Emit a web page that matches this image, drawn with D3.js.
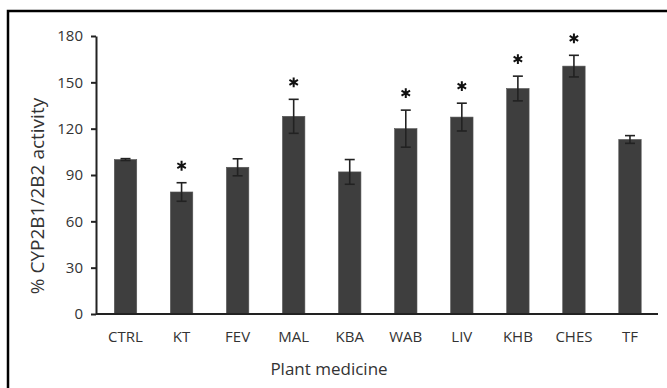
<!DOCTYPE html>
<html>
<head>
<meta charset="utf-8">
<script src="https://cdn.jsdelivr.net/npm/d3@7"></script>
<style>
  body { margin: 0; background: #fff; }
  svg { display: block; font-family: "Open Sans", sans-serif; }
</style>
</head>
<body>
<svg id="chart"></svg>
<script>
// Data
const categories = ["CTRL", "KT", "FEV", "MAL", "KBA", "WAB", "LIV", "KHB", "CHES", "TF"];
const meanValues = [100, 79, 95, 128, 92, 120, 127.5, 146, 160.5, 113];
const errorValues = [0.6, 6, 5.5, 11, 8, 12, 9, 8, 7, 2.5];
const significant = [false, true, false, true, false, true, true, true, true, false];
const yTicks = [0, 30, 60, 90, 120, 150, 180];

const width = 667;
const height = 388;
const svg = d3.select("#chart")
    .attr("width", width)
    .attr("height", height);

// frame around the figure (only top and left edges are inside the picture)
svg.append("rect")
    .attr("x", 8)
    .attr("y", 11)
    .attr("width", 700)
    .attr("height", 400)
    .attr("fill", "none")
    .attr("stroke", "#000")
    .attr("stroke-width", 2.5);

const x = d3.scaleBand()
    .domain(categories)
    .range([97.5, 658])
    .paddingInner(0.6)
    .paddingOuter(0.3);

const y = d3.scaleLinear()
    .domain([0, 180])
    .range([314, 36]);

const data = categories.map((c, i) => ({
    name: c,
    mean: meanValues[i],
    err: errorValues[i],
    sig: significant[i]
}));

// bars
svg.append("g")
    .selectAll("rect")
    .data(data)
    .join("rect")
    .attr("x", d => x(d.name))
    .attr("y", d => y(d.mean))
    .attr("width", x.bandwidth())
    .attr("height", d => y(0) - y(d.mean))
    .attr("fill", "#3e3e3e")
    .attr("stroke", "#555")
    .attr("stroke-width", 0.6);

// error bars
const errG = svg.append("g")
    .attr("stroke", "#222")
    .attr("stroke-width", 1.6);
const cap = 5;
data.forEach(d => {
    const cx = x(d.name) + x.bandwidth() / 2;
    errG.append("line")
        .attr("x1", cx).attr("x2", cx)
        .attr("y1", y(d.mean + d.err)).attr("y2", y(d.mean - d.err));
    errG.append("line")
        .attr("x1", cx - cap).attr("x2", cx + cap)
        .attr("y1", y(d.mean + d.err)).attr("y2", y(d.mean + d.err));
    errG.append("line")
        .attr("x1", cx - cap).attr("x2", cx + cap)
        .attr("y1", y(d.mean - d.err)).attr("y2", y(d.mean - d.err));
});

// significance asterisks
const star = d3.symbol().type(d3.symbolAsterisk).size(68);
svg.append("g")
    .selectAll("path")
    .data(data.filter(d => d.sig))
    .join("path")
    .attr("d", star)
    .attr("transform", d => `translate(${x(d.name) + x.bandwidth() / 2},${y(d.mean + d.err) - 17})`)
    .attr("fill", "none")
    .attr("stroke", "#111")
    .attr("stroke-width", 2);

// y axis
const yAxis = svg.append("g")
    .attr("transform", "translate(96,0)")
    .call(d3.axisLeft(y).tickValues(yTicks).tickSize(5).tickSizeOuter(0).tickPadding(8));
yAxis.select(".domain").attr("stroke", "#222").attr("stroke-width", 2);
yAxis.selectAll(".tick line").attr("stroke", "#222").attr("stroke-width", 2);
yAxis.selectAll(".tick text")
    .attr("fill", "#333")
    .style("font-size", "15px")
    .style("font-family", "Open Sans, sans-serif");

// x axis (no ticks)
const xAxis = svg.append("g")
    .attr("transform", "translate(0,314)")
    .call(d3.axisBottom(x).tickSize(0).tickPadding(17));
xAxis.select(".domain").attr("stroke", "#222").attr("stroke-width", 2)
    .attr("d", "M96,0H658");
xAxis.selectAll(".tick text")
    .attr("fill", "#333")
    .style("font-size", "15px")
    .style("font-family", "Open Sans, sans-serif");

// axis titles
svg.append("text")
    .attr("x", 329)
    .attr("y", 375)
    .attr("text-anchor", "middle")
    .attr("fill", "#333")
    .style("font-size", "17px")
    .text("Plant medicine");

svg.append("text")
    .attr("transform", "translate(44,196) rotate(-90)")
    .attr("text-anchor", "middle")
    .attr("fill", "#333")
    .style("font-size", "19px")
    .text("% CYP2B1/2B2 activity");
</script>
</body>
</html>
